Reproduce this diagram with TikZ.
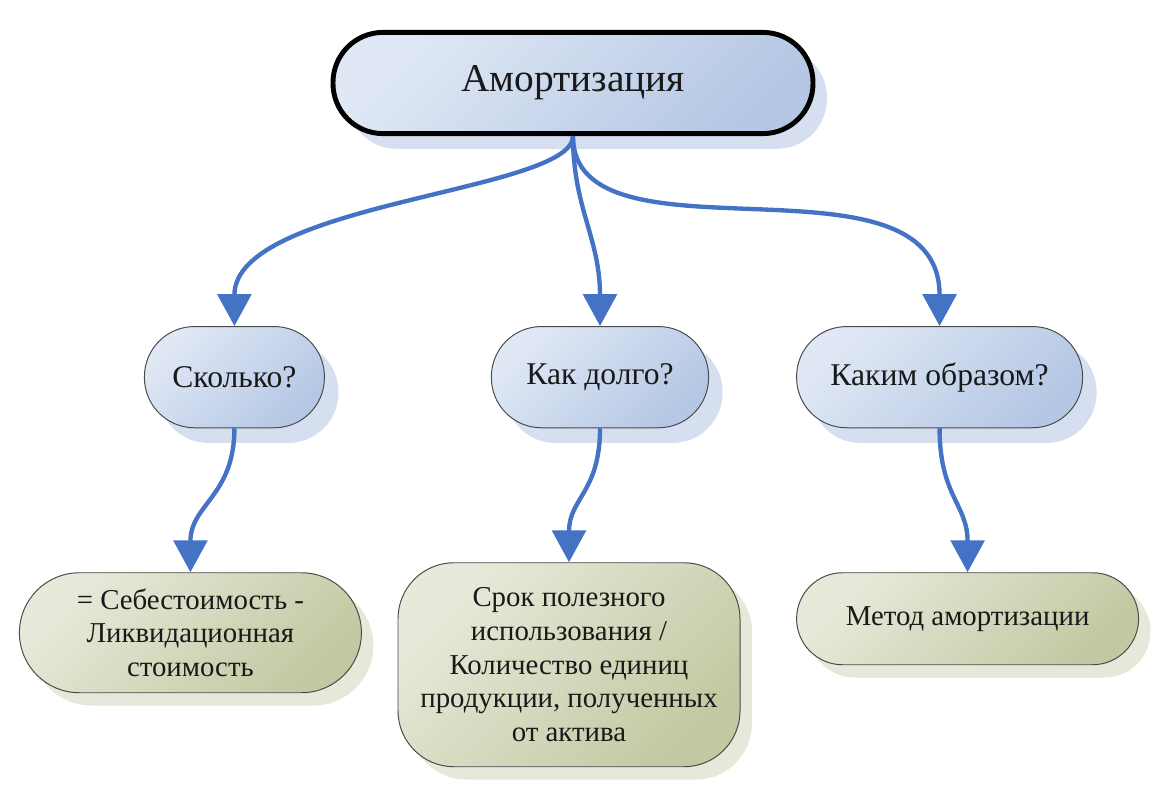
\documentclass[tikz,border=0pt]{standalone}
\usepackage{fontspec}
\setmainfont{Liberation Serif}
\usepackage{xcolor}
\usetikzlibrary{positioning, arrows.meta, shadows}
\definecolor{BlueA}{HTML}{E0E8F5}
\definecolor{BlueB}{HTML}{B5C7E4}
\definecolor{BlueS}{HTML}{D5DFF0}
\definecolor{GreenA}{HTML}{E7EADA}
\definecolor{GreenB}{HTML}{C3C8A2}
\definecolor{GreenS}{HTML}{E6E8DA}
\definecolor{LineA}{HTML}{4472C4}
\definecolor{EdgeA}{HTML}{4A4A4A}
\tikzset{
  box/.style={draw=EdgeA, line width=0.7pt, align=center,
              text=black!90, inner sep=2pt},
  blue/.style={top color=BlueA, bottom color=BlueB, shading angle=45,
               drop shadow={shadow xshift=0.35cm, shadow yshift=-0.38cm,
                            fill=BlueS, opacity=1}},
  green/.style={top color=GreenA, bottom color=GreenB, shading angle=45,
                drop shadow={shadow xshift=0.3cm, shadow yshift=-0.32cm,
                             fill=GreenS, opacity=1}},
  head/.style={box, blue, draw=black, line width=3.5pt,
               minimum width=12.0cm, minimum height=2.53cm,
               rounded corners=1.25cm, font=\fontsize{28}{32}\selectfont},
  ask/.style={box, blue, minimum height=2.53cm, rounded corners=1.25cm,
              font=\fontsize{22.5}{26}\selectfont},
  res/.style={box, green, minimum width=8.55cm,
              font=\fontsize{20.5}{24}\selectfont},
  arr/.style={-{Triangle[width=8.4mm, length=8mm]}, line width=3.1pt,
              draw=LineA}
}

\begin{document}
\begin{tikzpicture}

  \useasboundingbox (0,0) rectangle (29.35,-20);

  % ----- Top node -----
  \node[head] (amort) at (14.325,-2.075) {Амортизация};

  % ----- Middle row: three questions -----
  \node[ask, minimum width=5.43cm, below=4.75cm of amort.south,
        anchor=north, xshift=0.675cm] (dolgo) {Как долго?};
  \node[ask, minimum width=4.5cm, left=4.15cm of dolgo] (skolko)
    {Сколько?};
  \node[ask, minimum width=7.15cm, right=2.175cm of dolgo] (obraz)
    {Каким образом?};

  % ----- Bottom row: answers -----
  \node[res, minimum height=3.0cm, rounded corners=1.5cm,
        below=3.6cm of skolko.south, anchor=north, xshift=-1.1cm] (stoim)
    {= Себестоимость -\\Ликвидационная\\стоимость};
  \node[res, minimum height=5.1cm, rounded corners=1.4cm,
        below=3.35cm of dolgo.south, anchor=north, xshift=-0.775cm] (srok)
    {Срок полезного\\использования /\\Количество единиц\\продукции, полученных\\от актива};
  \node[res, minimum height=2.3cm, rounded corners=1.15cm,
        below=3.6cm of obraz.south, anchor=north, xshift=0.7cm] (metod)
    {Метод амортизации};

  % ----- Arrows from the top node -----
  \draw[arr] (amort.south) .. controls +(0,-1.4) and +(0,3.1) .. (skolko.north);
  \draw[arr] (amort.south) .. controls +(0,-1.8) and +(0,2.2) .. (dolgo.north);
  \draw[arr] (amort.south) .. controls +(0,-3.4) and +(0,4.6) .. (obraz.north);

  % ----- Arrows to the answers -----
  \draw[arr] (skolko.south) .. controls +(0,-1.7) and +(0,1.7) .. (stoim.north);
  \draw[arr] (dolgo.south) .. controls +(0,-1.6) and +(0,1.6) .. (srok.north);
  \draw[arr] (obraz.south) .. controls +(0,-1.7) and +(0,1.7) .. (metod.north);

\end{tikzpicture}
\end{document}
